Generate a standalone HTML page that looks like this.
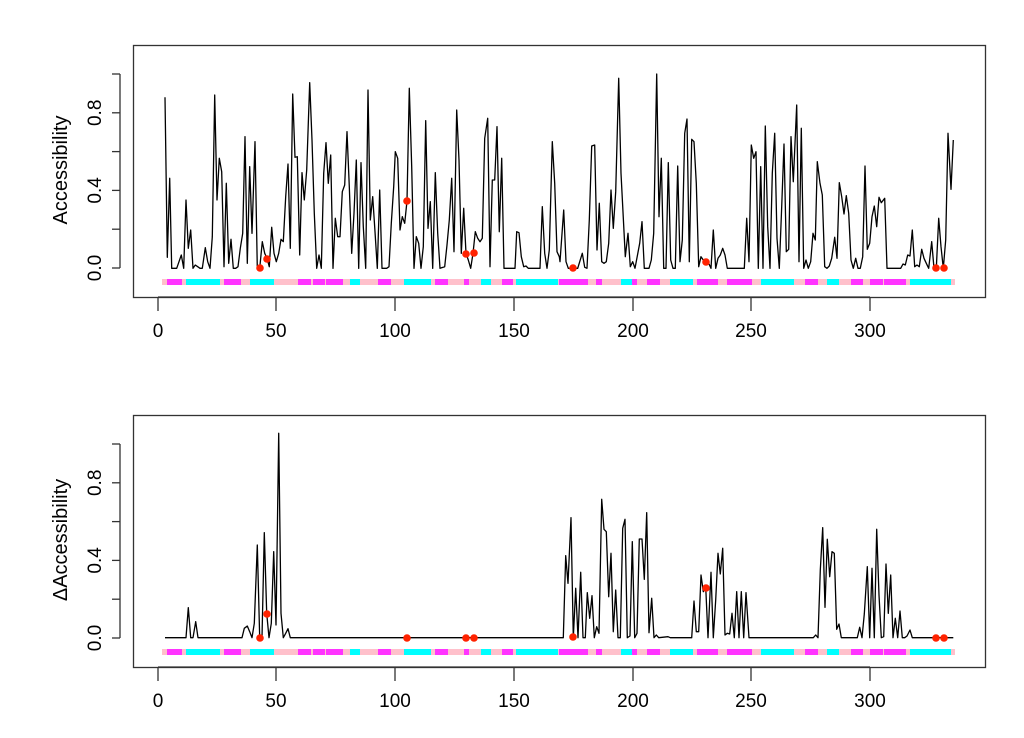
<!DOCTYPE html>
<html><head><meta charset="utf-8"><style>
body{margin:0;background:#fff;width:1024px;height:738px;overflow:hidden}
svg{display:block}
text{font-family:"Liberation Sans",sans-serif;fill:#000}
</style></head><body>
<svg id="s" width="1024" height="738" viewBox="0 0 1024 738" xmlns="http://www.w3.org/2000/svg"></svg>
<script>
var S=document.getElementById('s'),h='';
function pts(a,ox,oy){var r=[];for(var i=0;i<a.length;i+=2)r.push((ox+a[i]/3).toFixed(1)+','+(oy+a[i+1]/3).toFixed(1));return r.join(' ');}
var t1=[135,172,142,652,149,415,155,685,170,685,177,665,184,645,191,685,198,480,205,625,212,570,219,685,226,675,233,680,240,685,247,685,256,623,263,665,270,685,277,590,284,165,291,480,298,355,305,395,312,680,319,430,326,670,333,598,340,685,347,685,354,680,361,625,368,580,375,290,382,670,389,380,396,580,405,305,412,685,419,685,427,605,434,640,441,655,448,680,455,562,462,640,469,665,476,640,483,598,490,605,497,470,504,372,511,625,518,162,525,352,532,350,539,645,546,398,553,480,560,390,569,128,576,300,583,520,590,685,597,645,604,685,611,400,618,308,625,430,632,345,639,685,646,535,653,590,660,590,667,455,674,435,681,275,688,440,695,640,702,520,709,360,716,685,723,368,730,560,737,685,744,150,751,540,758,470,765,575,772,685,779,450,786,685,800,685,807,680,814,550,821,440,826,335,833,355,840,570,847,530,854,550,861,483,868,145,875,380,882,685,889,590,896,610,903,685,910,620,917,242,924,565,931,485,938,685,946,398,953,580,960,685,974,680,981,615,988,540,995,415,1002,635,1010,210,1017,360,1024,640,1031,505,1038,640,1045,660,1052,685,1059,640,1066,575,1073,595,1080,605,1087,595,1094,295,1103,235,1110,680,1117,420,1124,420,1131,260,1138,575,1145,355,1152,685,1185,685,1190,575,1197,578,1204,650,1211,680,1218,678,1225,685,1260,685,1267,500,1274,640,1281,685,1288,630,1297,305,1304,430,1311,635,1318,650];
var t2=[0,665,11,510,18,665,25,685,39,685,53,685,67,640,74,682,81,685,88,540,95,318,104,315,111,630,118,490,125,665,132,670,139,665,146,610,153,450,160,565,167,455,176,115,183,400,196,650,204,580,211,680,218,665,225,685,239,610,246,545,253,685,267,685,274,660,281,580,290,102,297,530,304,355,311,685,318,685,325,368,332,660,339,685,346,685,353,378,360,665,367,600,374,280,381,237,388,665,395,298,402,305,409,430,416,680,423,650,430,660,437,670,446,670,453,685,460,570,467,685,474,655,481,645,488,625,495,645,502,685,553,685,560,535,567,665,574,315,581,355,588,335,595,685,602,380,609,685,616,258,623,560,630,685,637,400,644,280,651,595,658,685,665,500,672,312,679,635,686,628,693,290,700,425,710,195,717,665,724,265,731,685,738,660,745,685,752,665,759,580,766,600,772,365,780,430,787,465,794,680,801,685,808,678,815,655,824,592,831,655,838,428,845,470,852,522,859,467,866,520,873,660,880,685,887,655,894,685,901,685,908,650,915,378,922,628,929,610,936,530,943,498,950,560,957,472,964,488,974,475,981,685,1022,685,1029,672,1036,675,1043,645,1050,648,1057,570,1064,680,1071,675,1078,680,1085,628,1092,655,1099,670,1106,685,1115,605,1122,685,1129,685,1136,535,1143,620,1150,685,1157,600,1164,280,1173,448,1180,300];
var b1=[135,683,198,683,205,593,212,683,219,683,227,635,234,683,366,683,373,655,382,648,389,665,396,683,403,640,412,405,419,683,426,683,433,368,440,610,447,683,454,640,461,425,468,645,476,70,483,610,490,683,497,670,504,656,511,683,1290,683];
var b2=[0,683,40,683,47,437,54,520,63,323,70,683,77,535,84,683,92,487,99,683,106,683,112,548,119,625,126,557,133,683,140,650,147,670,155,268,162,358,169,365,176,560,183,430,190,665,197,540,204,683,211,683,218,355,225,328,232,683,240,678,247,395,254,683,261,670,268,387,276,387,283,508,290,308,297,668,305,565,312,683,319,675,326,683,354,680,361,683,425,683,432,573,439,665,446,665,453,495,460,545,467,530,474,683,483,487,490,683,497,570,504,430,511,492,518,415,525,675,532,670,539,672,546,610,553,683,560,545,567,683,574,545,581,683,588,548,597,683,790,683,797,675,804,683,811,480,818,353,825,592,832,388,839,500,846,425,853,430,860,658,867,642,874,683,922,683,929,652,936,683,943,612,952,470,959,683,966,475,973,683,980,358,987,555,994,683,1001,680,1008,462,1015,610,1022,495,1029,683,1036,625,1043,683,1050,603,1057,683,1064,683,1071,678,1080,660,1087,683,1210,683];
var mag=[[167,182],[186,220,'c'],[224,241],[250,274,'c'],[298,311],[313,325],[326,343],[350,360,'c'],[378,391],[404,431,'c'],[435,448],[464,469],[481,491,'c'],[502,513],[516,558,'c'],[559,588],[596,602],[621,632,'c'],[632,637],[647,660],[670,693,'c'],[697,718],[727,752],[761,794,'c'],[805,818],[827,839,'c'],[851,863],[870,883],[884,906],[910,951,'c']];
var xt=[[0,158],[50,276],[100,395],[150,514],[200,633],[250,751],[300,870]];
function panel(oy,l1,l2,ox2,title,dots){
 h+='<rect x="133.5" y="'+(45.5+oy)+'" width="852" height="252" fill="none" stroke="#333" stroke-width="1.3"/>';
 h+='<line x1="120" y1="'+(74+oy)+'" x2="120" y2="'+(268+oy)+'" stroke="#333" stroke-width="1.3"/>';
 for(var k=0;k<6;k++){var y=268+oy-k*38.8;h+='<line x1="112" y1="'+y+'" x2="120" y2="'+y+'" stroke="#333" stroke-width="1.3"/>';}
 [['0.0',268],['0.4',190.4],['0.8',112.8]].forEach(function(a){var y=a[1]+oy;h+='<text x="101" y="'+y+'" font-size="19" text-anchor="middle" transform="rotate(-90 101 '+y+')">'+a[0]+'</text>';});
 h+='<text x="67" y="'+(170+oy)+'" font-size="20" text-anchor="middle" transform="rotate(-90 67 '+(170+oy)+')">'+title+'</text>';
 h+='<line x1="158" y1="'+(297+oy)+'" x2="870" y2="'+(297+oy)+'" stroke="#333" stroke-width="1.3"/>';
 xt.forEach(function(a){h+='<line x1="'+a[1]+'" y1="'+(297+oy)+'" x2="'+a[1]+'" y2="'+(311+oy)+'" stroke="#333" stroke-width="1.3"/><text x="'+a[1]+'" y="'+(337+oy)+'" font-size="19" text-anchor="middle">'+a[0]+'</text>';});
 h+='<rect x="162" y="'+(279+oy)+'" width="793" height="6" fill="#ffc0cb"/>';
 mag.forEach(function(m){h+='<rect x="'+m[0]+'" y="'+(279+oy)+'" width="'+(m[1]-m[0])+'" height="6" fill="'+(m[2]?'#00ffff':'#ff33ff')+'"/>';});
 h+='<polyline points="'+pts(l1,120,40+oy)+' '+pts(l2,ox2,40+oy)+'" fill="none" stroke="#000" stroke-width="1.3" stroke-linejoin="round"/>';
 dots.forEach(function(d){h+='<circle cx="'+d[0]+'" cy="'+(d[1]+oy)+'" r="3.8" fill="#ff2200"/>';});
}
panel(0,t1,t2,560,'Accessibility',[[260,268],[267,259],[407,201],[466,254],[474,253],[573,268],[706,262],[936,268],[944,268]]);
panel(370,b1,b2,550,'\u0394Accessibility',[[260,268],[267,244],[407,268],[466,268],[474,268],[573,267],[706,218],[936,268],[944,268]]);
S.innerHTML=h;
</script>
</body></html>
